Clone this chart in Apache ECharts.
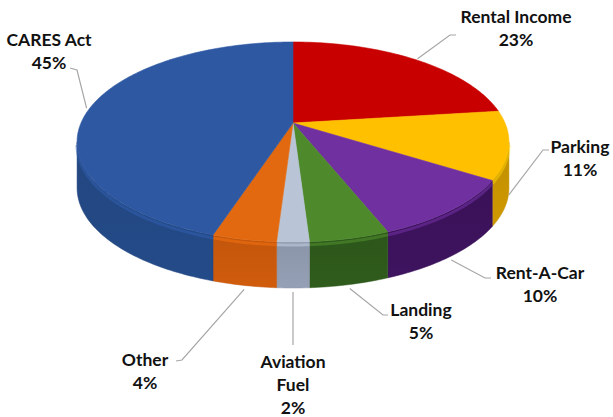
<!DOCTYPE html>
<html>
<head>
<meta charset="utf-8">
<script src="https://cdn.jsdelivr.net/npm/echarts@6/dist/echarts.min.js"></script>
<style>
  html, body { margin: 0; padding: 0; background: #ffffff; }
  #chart { width: 613px; height: 417px; }
</style>
</head>
<body>
<div id="chart"></div>
<script>
// Revenue sources (share of total, %), clockwise from 12 o'clock
const categories = ['Rental Income', 'Parking', 'Rent-A-Car', 'Landing', 'Aviation Fuel', 'Other', 'CARES Act'];
const shares = [23, 11, 10, 5, 2, 4, 45];
const labelNames = ['Rental Income', 'Parking', 'Rent-A-Car', 'Landing', 'Aviation\nFuel', 'Other', 'CARES Act'];

// Slice colours: top face and side wall
const topColors  = ['#C80000', '#FFC000', '#7030A0', '#4E8A2C', '#B9C4D6', '#E2690F', '#2E58A2'];
const sideColors = ['#9A0000', '#C08E00', '#3A1258', '#2C561A', '#8A95A9', '#C2560C', '#22467F'];

// Tilted-disc geometry (screen pixels); k adds perspective foreshortening
const PIE = { cx: 293, cy: 123, rx: 212, ry: 96.4, k: 0.19, depth: 46 };
// Angular range of the outer wall that faces the viewer
const WALL_FROM = Math.acos(-PIE.k);
const WALL_TO = 2 * Math.PI - WALL_FROM;

// Label placement: text block centre-x / top-y, leader elbow and end
const labelLayout = [
  { x: 516, y: 5,   elbow: [450, 35],  end: [456, 35] },
  { x: 580, y: 135, elbow: [543, 150], end: [549, 150] },
  { x: 540, y: 261, elbow: [485, 278], end: [491, 278] },
  { x: 421, y: 298, elbow: [383, 315], end: [388, 315] },
  { x: 293, y: 350, elbow: [293, 345], end: [293, 345] },
  { x: 145, y: 348, elbow: [182, 360], end: [176, 361] },
  { x: 49,  y: 28,  elbow: [77, 70],   end: [70, 68] }
];

const FONT = 'bold 17.5px Lato, "Open Sans", sans-serif';

function project(theta, drop, scale) {
  const s = scale || 1;
  const d = 1 + PIE.k * Math.cos(theta);
  return [
    PIE.cx + s * PIE.rx * Math.sin(theta) / d,
    PIE.cy - s * PIE.ry * Math.cos(theta) / d + drop
  ];
}

function sliceAngles(i) {
  const total = shares.reduce((a, b) => a + b, 0);
  let before = 0;
  for (let j = 0; j < i; j++) before += shares[j];
  const a0 = before / total * 2 * Math.PI;
  const a1 = (before + shares[i]) / total * 2 * Math.PI;
  return [a0, a1];
}

function arc(a0, a1, drop) {
  const n = Math.max(2, Math.ceil((a1 - a0) / (Math.PI / 180)));
  const pts = [];
  for (let t = 0; t <= n; t++) pts.push(project(a0 + (a1 - a0) * t / n, drop));
  return pts;
}

function renderWall(params, api) {
  const i = params.dataIndex;
  const [s0, s1] = sliceAngles(i);
  const a0 = Math.max(s0, WALL_FROM);
  const a1 = Math.min(s1, WALL_TO);
  if (a1 <= a0) return { type: 'group', children: [] };
  const top = arc(a0, a1, 0);
  const bottom = arc(a0, a1, PIE.depth).reverse();
  return {
    type: 'group',
    children: [
      {
        type: 'polygon',
        shape: { points: top.concat(bottom) },
        style: {
          fill: new echarts.graphic.LinearGradient(0, 0, 0, 1, [
            { offset: 0, color: sideColors[i] },
            { offset: 1, color: echarts.color.lift(sideColors[i], -0.08) }
          ]),
          stroke: sideColors[i],
          lineWidth: 0.5
        }
      },
      {
        type: 'polyline',
        shape: { points: arc(a0, a1, 3) },
        style: { stroke: echarts.color.lift(topColors[i], -0.1), lineWidth: 3, opacity: 0.5, fill: null }
      }
    ]
  };
}

function renderTop(params, api) {
  const i = params.dataIndex;
  const [a0, a1] = sliceAngles(i);
  const pts = [[PIE.cx, PIE.cy]].concat(arc(a0, a1, 0));
  return {
    type: 'polygon',
    shape: { points: pts },
    style: { fill: topColors[i], stroke: topColors[i], lineWidth: 0.6 }
  };
}

function renderLabel(params, api) {
  const i = params.dataIndex;
  const [a0, a1] = sliceAngles(i);
  const mid = (a0 + a1) / 2;
  let anchor;
  if (mid > WALL_FROM && mid < WALL_TO) {
    anchor = project(mid, PIE.depth + 4);
  } else {
    anchor = project(mid, 0, 1.015);
  }
  const lay = labelLayout[i];
  return {
    type: 'group',
    children: [
      {
        type: 'polyline',
        shape: { points: [anchor, lay.elbow, lay.end] },
        style: { stroke: '#A6A6A6', lineWidth: 1.2, fill: null }
      },
      {
        type: 'text',
        style: {
          text: labelNames[i] + '\n' + shares[i] + '%',
          x: lay.x,
          y: lay.y,
          align: 'center',
          verticalAlign: 'top',
          font: FONT,
          lineHeight: 23,
          fill: '#111111'
        }
      }
    ]
  };
}

const seriesData = shares.map((v, i) => ({ name: categories[i], value: v }));

const chart = echarts.init(document.getElementById('chart'), null, { renderer: 'svg' });
chart.setOption({
  backgroundColor: '#ffffff',
  animation: false,
  series: [
    { type: 'custom', coordinateSystem: 'none', renderItem: renderWall, data: seriesData, z: 1 },
    { type: 'custom', coordinateSystem: 'none', renderItem: renderTop, data: seriesData, z: 2 },
    { type: 'custom', coordinateSystem: 'none', renderItem: renderLabel, data: seriesData, z: 3 }
  ]
});
</script>
</body>
</html>
